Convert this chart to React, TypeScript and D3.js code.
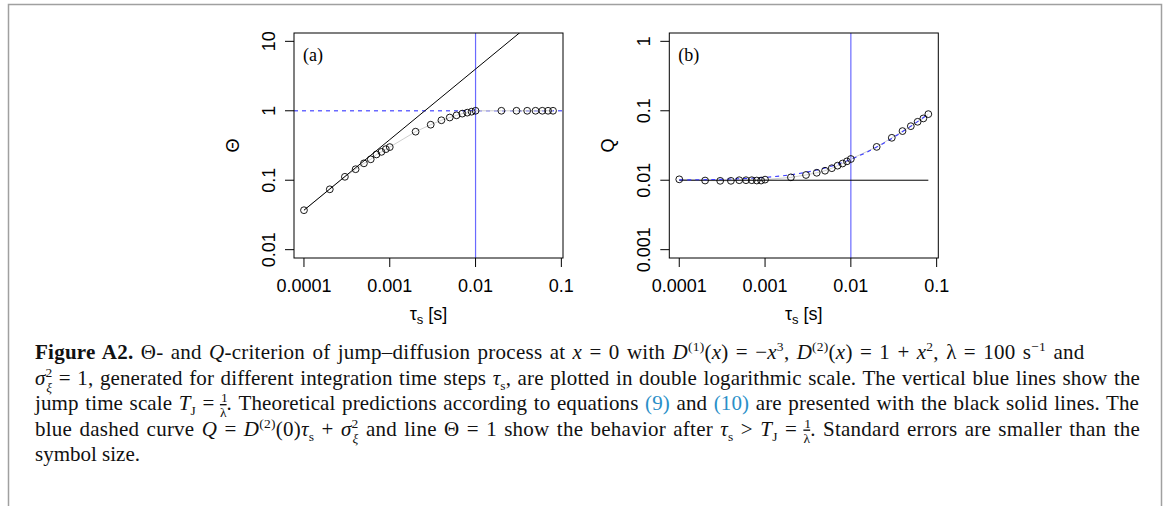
import React, { useLayoutEffect, useRef, useState } from "react";
import * as d3 from "d3";

// ---------- data ----------
const tau = [
  0.0001, 0.0002, 0.0003, 0.0004, 0.0005, 0.0006, 0.0007, 0.0008, 0.0009, 0.001,
  0.002, 0.003, 0.004, 0.005, 0.006, 0.007, 0.008, 0.009, 0.01,
  0.02, 0.03, 0.04, 0.05, 0.06, 0.07, 0.08,
];
const thetaValues = [
  0.037, 0.074, 0.112, 0.144, 0.175, 0.2, 0.235, 0.256, 0.28, 0.3,
  0.5, 0.63, 0.73, 0.8, 0.86, 0.91, 0.94, 0.97, 1.0,
  1.0, 1.0, 1.0, 1.0, 1.0, 1.0, 1.0,
];
const qValues = [
  0.0103, 0.0099, 0.0098, 0.0098, 0.01, 0.01, 0.01, 0.0099, 0.0099, 0.0102,
  0.011, 0.0119, 0.0128, 0.0137, 0.0149, 0.0162, 0.0174, 0.0187, 0.0202,
  0.0302, 0.0408, 0.051, 0.06, 0.0694, 0.0776, 0.0895,
];
const thetaTheoryTau = [0.0001, 0.001, 0.01, 0.1];
const thetaTheoryValues = [0.037, 0.384, 3.99, 41.5];
const qTheoryTau = [0.0001, 0.08];
const qTheoryValues = [0.01, 0.01];
const qCurveTau = [0.0001, 0.0003, 0.001, 0.002, 0.003, 0.005, 0.007, 0.01, 0.02, 0.03, 0.05, 0.08];
const qCurveValues = [0.0101, 0.0103, 0.011, 0.012, 0.013, 0.015, 0.017, 0.02, 0.03, 0.04, 0.06, 0.09];
const jumpTime = [0.01];
const thetaRef = [1];
const xTicks = [0.0001, 0.001, 0.01, 0.1];
const xTickLabels = ["0.0001", "0.001", "0.01", "0.1"];
const yTicksA = [0.01, 0.1, 1, 10];
const yTickLabelsA = ["0.01", "0.1", "1", "10"];
const yTicksB = [0.001, 0.01, 0.1, 1];
const yTickLabelsB = ["0.001", "0.01", "0.1", "1"];

// ---------- layout ----------
const TOP = 33;
const BOTTOM = 258;
const PW = 269;
const SANS = "'Liberation Sans', Arial, Helvetica, sans-serif";
const SERIF = "'Liberation Serif', 'Times New Roman', serif";
const BLUE_LINE = "#6a6aff";
const BLUE_DASH = "#3b3bff";

function logPad(lo: number, hi: number) {
  const a = Math.log10(lo);
  const b = Math.log10(hi);
  const p = 0.04 * (b - a);
  return [Math.pow(10, a - p), Math.pow(10, b + p)];
}

type PanelProps = {
  id: string;
  left: number;
  label: string;
  ylab: string;
  ylim: [number, number];
  yTicks: number[];
  yTickLabels: string[];
  values: number[];
  theoryX: number[];
  theoryY: number[];
  dashX?: number[];
  dashY?: number[];
  hline?: number[];
};

function Panel(p: PanelProps) {
  const x = d3
    .scaleLog()
    .domain(logPad(d3.min(tau) as number, d3.max(tau) as number))
    .range([p.left, p.left + PW]);
  const y = d3.scaleLog().domain(logPad(p.ylim[0], p.ylim[1])).range([BOTTOM, TOP]);
  const line = d3
    .line<[number, number]>()
    .x((d) => x(d[0]))
    .y((d) => y(d[1]));
  const smooth = d3
    .line<[number, number]>()
    .x((d) => x(d[0]))
    .y((d) => y(d[1]))
    .curve(d3.curveMonotoneX);
  const pts: [number, number][] = tau.map((t, i) => [t, p.values[i]]);
  const theory: [number, number][] = p.theoryX.map((t, i) => [t, p.theoryY[i]]);
  const cx = p.left + PW / 2;
  const cy = (TOP + BOTTOM) / 2;
  return (
    <g>
      <defs>
        <clipPath id={"clip" + p.id}>
          <rect x={p.left} y={TOP} width={PW} height={BOTTOM - TOP} />
        </clipPath>
      </defs>
      <g clipPath={`url(#clip${p.id})`}>
        {jumpTime.map((j) => (
          <line key={j} x1={x(j)} x2={x(j)} y1={TOP} y2={BOTTOM} stroke={BLUE_LINE} strokeWidth={1.2} />
        ))}
        {p.hline &&
          p.hline.map((h) => (
            <line key={h} x1={p.left} x2={p.left + PW} y1={y(h)} y2={y(h)} stroke={BLUE_LINE} strokeWidth={1.4} strokeDasharray="4,4" />
          ))}
        <path d={line(pts) || ""} fill="none" stroke="#cfcfcf" strokeWidth={1} />
        <path d={line(theory) || ""} fill="none" stroke="#000" strokeWidth={1} />
        {p.dashX && p.dashY && (
          <path
            d={smooth(p.dashX.map((t, i) => [t, (p.dashY as number[])[i]] as [number, number])) || ""}
            fill="none"
            stroke={BLUE_DASH}
            strokeWidth={1.1}
            strokeDasharray="4,4"
          />
        )}
      </g>
      {pts.map((d, i) => (
        <circle key={i} cx={x(d[0])} cy={y(d[1])} r={3.4} fill="none" stroke="#000" strokeWidth={0.9} />
      ))}
      <rect x={p.left} y={TOP} width={PW} height={BOTTOM - TOP} fill="none" stroke="#000" strokeWidth={1} />
      {xTicks.map((t, i) => (
        <g key={t}>
          <line x1={x(t)} x2={x(t)} y1={BOTTOM} y2={BOTTOM + 9} stroke="#000" strokeWidth={1} />
          <text x={x(t)} y={291.5} textAnchor="middle" fontFamily={SANS} fontSize={18}>
            {xTickLabels[i]}
          </text>
        </g>
      ))}
      {p.yTicks.map((t, i) => (
        <g key={t}>
          <line x1={p.left - 9} x2={p.left} y1={y(t)} y2={y(t)} stroke="#000" strokeWidth={1} />
          <text
            transform={`translate(${p.left - 19},${y(t)}) rotate(-90)`}
            textAnchor="middle"
            fontFamily={SANS}
            fontSize={18}
          >
            {p.yTickLabels[i]}
          </text>
        </g>
      ))}
      <text x={cx} y={320} textAnchor="middle" fontFamily={SANS} fontSize={18}>
        τ<tspan fontSize={13} dy={4}>s</tspan>
        <tspan dy={-4}> [s]</tspan>
      </text>
      <text transform={`translate(${p.left - 55},${cy}) rotate(-90)`} textAnchor="middle" fontFamily={SANS} fontSize={18}>
        {p.ylab}
      </text>
      <text x={p.left + 9} y={61} fontFamily={SERIF} fontSize={18}>
        {p.label}
      </text>
    </g>
  );
}

// ---------- caption ----------
type Seg = { t: string; i?: boolean; b?: boolean; sz?: number; sh?: number; c?: string; dx?: number; ov?: boolean };

const SUP = -8;
const SUB = 5;
const S = 13.5;
const LINK = "#2a8fc8";

const captionLines: Seg[][] = [
  [
    { t: "Figure A2.", b: true },
    { t: " Θ- and " },
    { t: "Q", i: true },
    { t: "-criterion of jump–diffusion process at " },
    { t: "x", i: true },
    { t: " = 0 with " },
    { t: "D", i: true },
    { t: "(1)", sz: S, sh: SUP },
    { t: "(" },
    { t: "x", i: true },
    { t: ") = −" },
    { t: "x", i: true },
    { t: "3", sz: S, sh: SUP },
    { t: ", " },
    { t: "D", i: true },
    { t: "(2)", sz: S, sh: SUP },
    { t: "(" },
    { t: "x", i: true },
    { t: ") = 1 + " },
    { t: "x", i: true },
    { t: "2", sz: S, sh: SUP },
    { t: ", λ = 100 s" },
    { t: "−1", sz: S, sh: SUP },
    { t: " and" },
  ],
  [
    { t: "σ", i: true },
    { t: "2", sz: S, sh: SUP },
    { t: "ξ", i: true, sz: S, sh: SUB + 2, dx: -6 },
    { t: " = 1, generated for different integration time steps " },
    { t: "τ", i: true },
    { t: "s", sz: S, sh: SUB },
    { t: ", are plotted in double logarithmic scale. The vertical blue lines show the" },
  ],
  [
    { t: "jump time scale " },
    { t: "T", i: true },
    { t: "J", sz: S, sh: SUB },
    { t: " = " },
    { t: "1", sz: S, sh: -8 },
    { t: "λ", sz: S, sh: 7, dx: -8, ov: true },
    { t: ". Theoretical predictions according to equations " },
    { t: "(9)", c: LINK },
    { t: " and " },
    { t: "(10)", c: LINK },
    { t: " are presented with the black solid lines. The" },
  ],
  [
    { t: "blue dashed curve " },
    { t: "Q", i: true },
    { t: " = " },
    { t: "D", i: true },
    { t: "(2)", sz: S, sh: SUP },
    { t: "(0)" },
    { t: "τ", i: true },
    { t: "s", sz: S, sh: SUB },
    { t: " + " },
    { t: "σ", i: true },
    { t: "2", sz: S, sh: SUP },
    { t: "ξ", i: true, sz: S, sh: SUB + 2, dx: -6 },
    { t: " and line Θ = 1 show the behavior after " },
    { t: "τ", i: true },
    { t: "s", sz: S, sh: SUB },
    { t: " > " },
    { t: "T", i: true },
    { t: "J", sz: S, sh: SUB },
    { t: " = " },
    { t: "1", sz: S, sh: -8 },
    { t: "λ", sz: S, sh: 7, dx: -8, ov: true },
    { t: ". Standard errors are smaller than the" },
  ],
  [{ t: "symbol size." }],
];
const captionBaselines = [359, 384.5, 410, 435.5, 461];
const captionTargets = [1050, 1105, 1105, 1105, 0];
const CAP_X = 35;
const CAP_SIZE = 21;

function renderSegs(segs: Seg[]) {
  let prev = 0;
  return segs.map((s, k) => {
    const sh = s.sh || 0;
    const dy = sh - prev;
    prev = sh;
    return (
      <tspan
        key={k}
        dy={dy || undefined}
        dx={s.dx}
        fontStyle={s.i ? "italic" : undefined}
        fontWeight={s.b ? "bold" : undefined}
        fontSize={s.sz}
        fill={s.c}
        style={s.ov ? { textDecoration: "overline" } : undefined}
      >
        {s.t}
      </tspan>
    );
  });
}

function Caption() {
  const refs = useRef<(SVGTextElement | null)[]>([]);
  const [spacing, setSpacing] = useState<{ w: number; l: number }[]>(captionLines.map(() => ({ w: 0, l: 0 })));
  useLayoutEffect(() => {
    const next = captionLines.map((segs, i) => {
      const el = refs.current[i];
      const target = captionTargets[i];
      if (!el || !target) return { w: 0, l: 0 };
      const w = el.getBBox().width;
      const txt = segs.map((s) => s.t).join("");
      const spaces = txt.split(" ").length - 1;
      const chars = txt.length;
      const extra = target - w;
      return { w: spaces > 0 ? (extra * 0.6) / spaces : 0, l: (extra * 0.4) / chars };
    });
    setSpacing(next);
  }, []);
  return (
    <g fontFamily={SERIF} fontSize={CAP_SIZE} fill="#111">
      {captionLines.map((segs, i) => (
        <text
          key={i}
          ref={(el) => {
            refs.current[i] = el;
          }}
          x={CAP_X}
          y={captionBaselines[i]}
          style={{ wordSpacing: spacing[i].w + "px", letterSpacing: spacing[i].l + "px", whiteSpace: "pre" }}
        >
          {renderSegs(segs)}
        </text>
      ))}
    </g>
  );
}

export default function App() {
  return (
    <svg
      width={1168}
      height={506}
      viewBox="0 0 1168 506"
      style={{ position: "absolute", left: 0, top: 0, background: "#fff" }}
    >
      <rect x={0} y={0} width={1168} height={506} fill="#fff" />
      <path d="M8.5,506 V4.5 H1161.5 V506" fill="none" stroke="#a0a0a0" strokeWidth={1.5} />
      <Panel
        id="a"
        left={294}
        label="(a)"
        ylab="Θ"
        ylim={[0.01, 10]}
        yTicks={yTicksA}
        yTickLabels={yTickLabelsA}
        values={thetaValues}
        theoryX={thetaTheoryTau}
        theoryY={thetaTheoryValues}
        hline={thetaRef}
      />
      <Panel
        id="b"
        left={669.3}
        label="(b)"
        ylab="Q"
        ylim={[0.001, 1]}
        yTicks={yTicksB}
        yTickLabels={yTickLabelsB}
        values={qValues}
        theoryX={qTheoryTau}
        theoryY={qTheoryValues}
        dashX={qCurveTau}
        dashY={qCurveValues}
      />
      <Caption />
    </svg>
  );
}
